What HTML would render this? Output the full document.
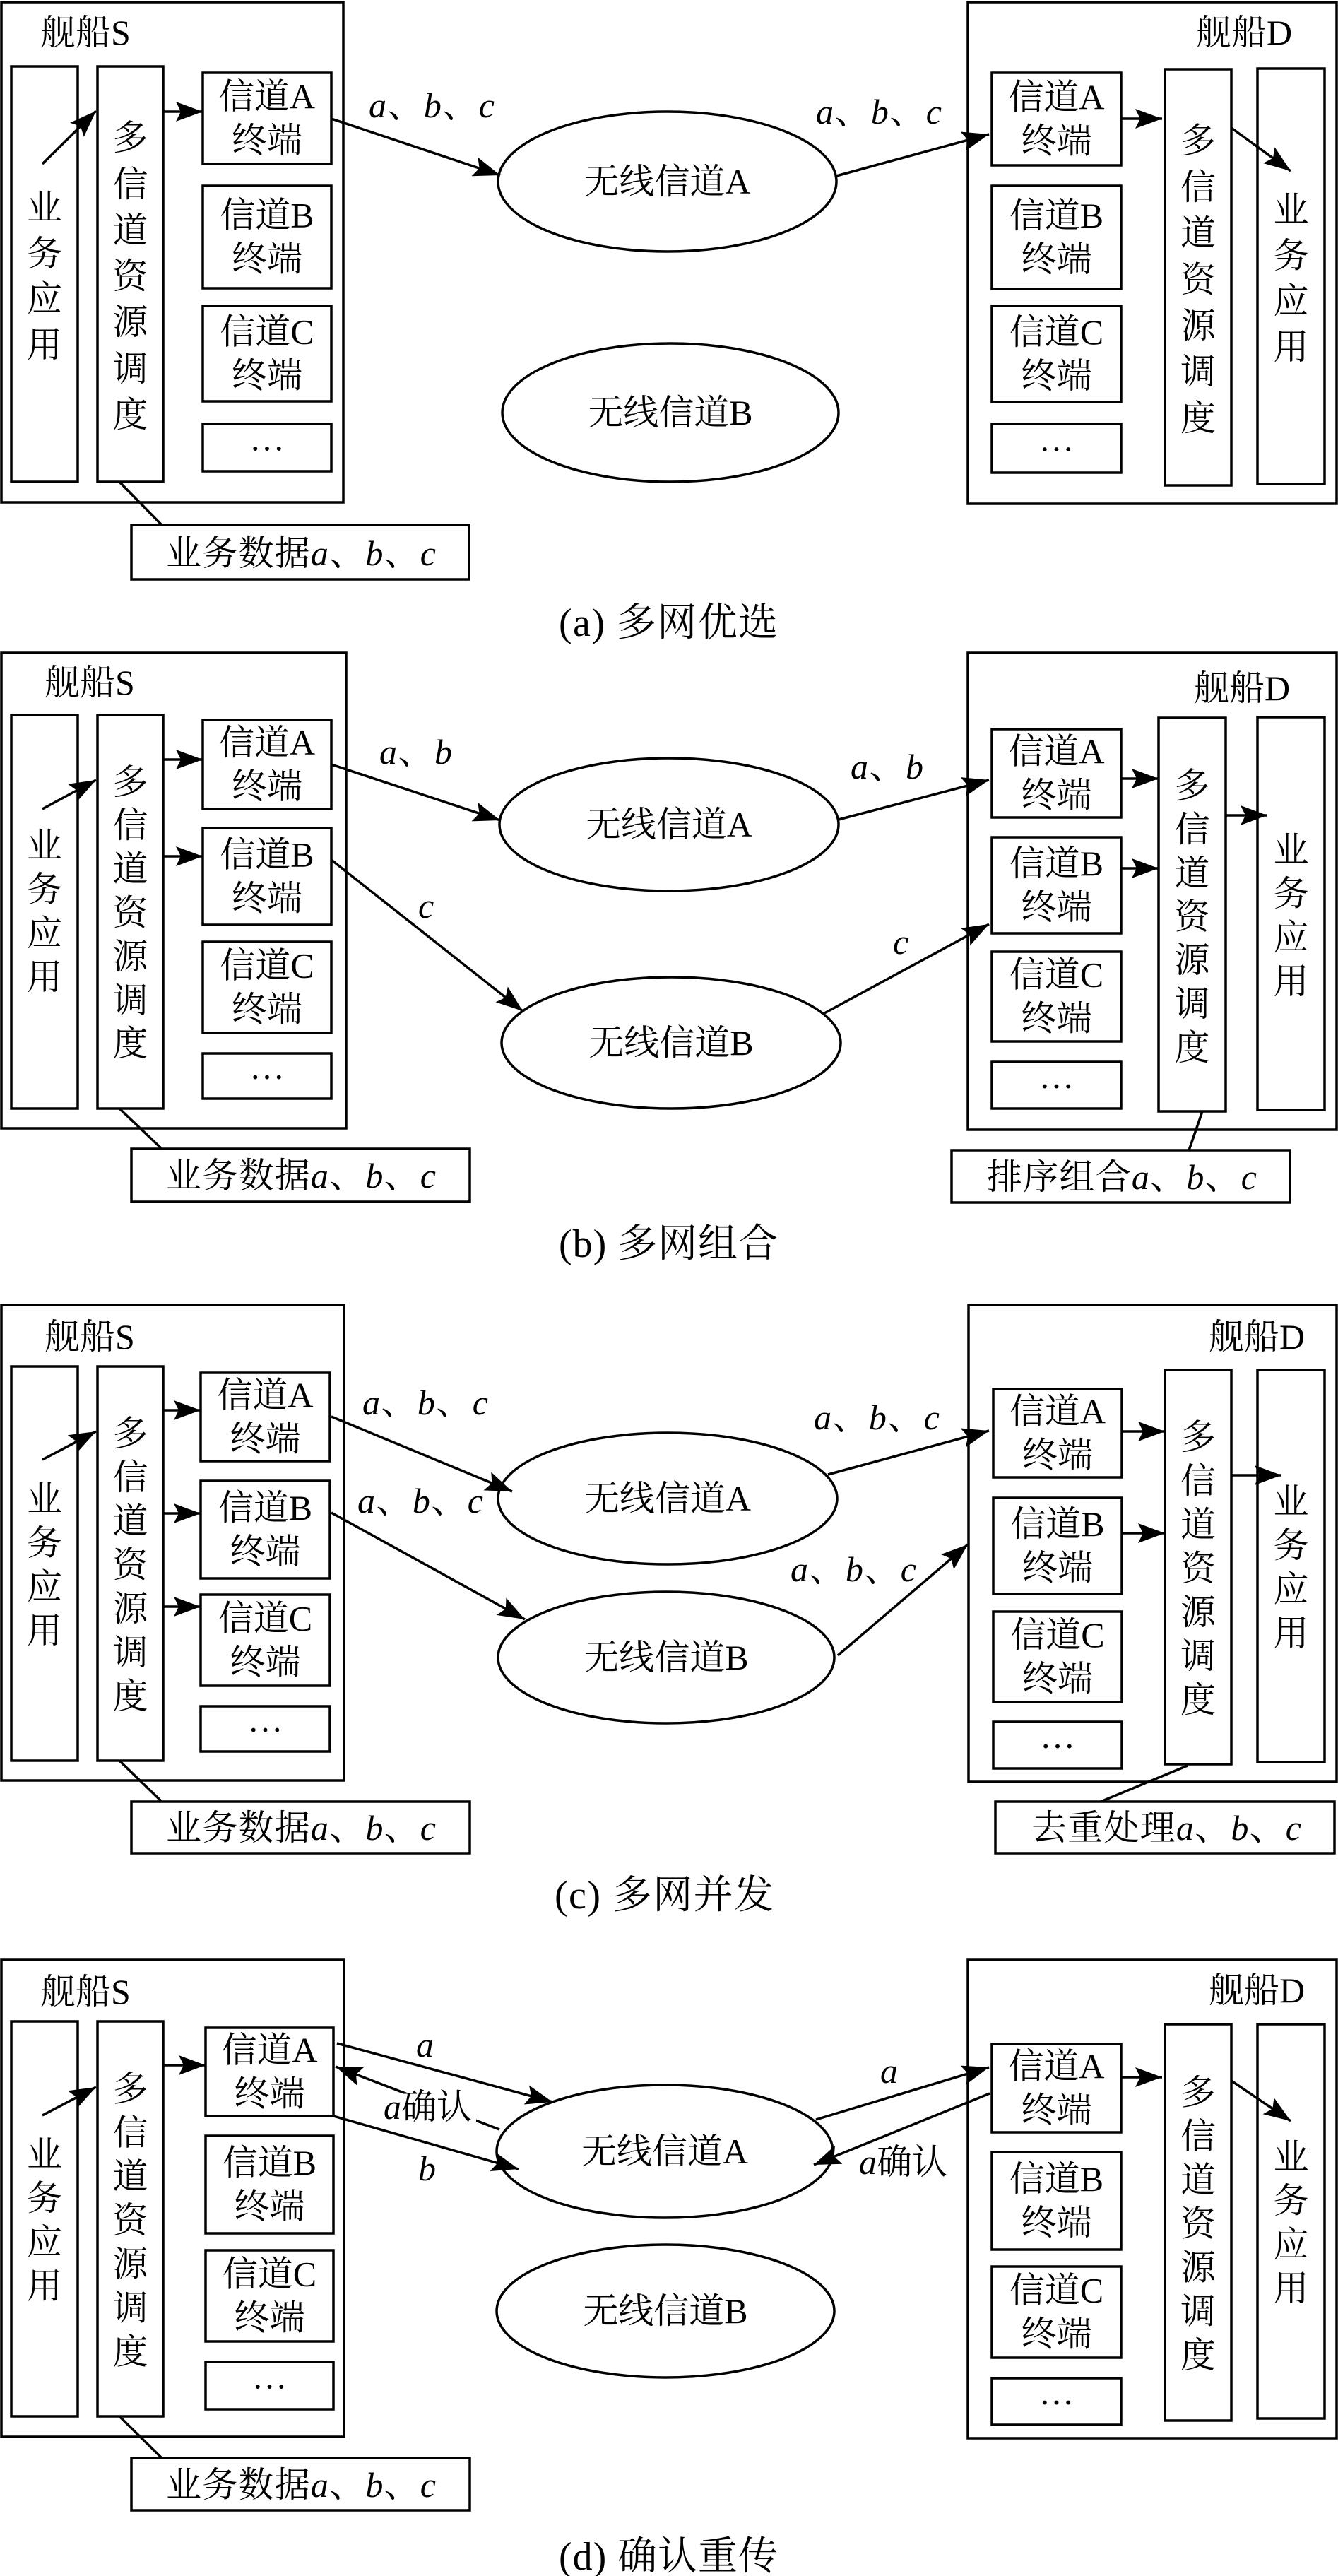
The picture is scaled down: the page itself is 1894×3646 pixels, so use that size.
<!DOCTYPE html>
<html><head><meta charset="utf-8"><style>
html,body{margin:0;padding:0;background:#fff;}
svg{display:block;}
text{font-family:"Liberation Serif","Noto Serif CJK SC",serif;font-size:50px;fill:#000;}
.c{text-anchor:middle;}
.i{font-style:italic;}
.cap{font-size:56px;}
</style></head><body>
<svg width="1894" height="3646" viewBox="0 0 1894 3646" xmlns="http://www.w3.org/2000/svg">
<defs>
<marker id="ar" markerUnits="userSpaceOnUse" markerWidth="40" markerHeight="30" refX="38" refY="14" orient="auto">
<path d="M0,0 L38,14 L0,28 L7,14 z" fill="#000"/>
</marker>
</defs>
<g fill="none" stroke="#000" stroke-width="3.5">
<!-- Panel a -->
<rect x="2" y="3" width="484" height="708"/>
<rect x="16" y="94" width="94" height="588"/>
<rect x="138" y="94" width="93" height="588"/>
<rect x="287" y="103" width="182" height="129"/>
<rect x="287" y="263" width="182" height="145"/>
<rect x="287" y="433" width="182" height="135"/>
<rect x="287" y="600" width="182" height="67"/>
<rect x="1370" y="3" width="522" height="710"/>
<rect x="1404" y="103" width="183" height="131"/>
<rect x="1404" y="263" width="183" height="146"/>
<rect x="1404" y="433" width="183" height="136"/>
<rect x="1404" y="600" width="183" height="69"/>
<rect x="1649" y="98" width="94" height="589"/>
<rect x="1780" y="97" width="95" height="588"/>
<ellipse cx="944.5" cy="257" rx="239.5" ry="99"/>
<ellipse cx="949" cy="584" rx="238" ry="98"/>
<rect x="186" y="743" width="478" height="77"/>
<line x1="169" y1="682" x2="228" y2="742"/>
<g marker-end="url(#ar)">
<line x1="60" y1="232" x2="136" y2="157"/>
<line x1="231" y1="158" x2="287" y2="158"/>
<line x1="469" y1="168" x2="708" y2="248"/>
<line x1="1184" y1="249" x2="1400" y2="190"/>
<line x1="1587" y1="168" x2="1645" y2="168"/>
<line x1="1743" y1="181" x2="1827" y2="242"/>
</g>
<!-- Panel b -->
<rect x="2" y="924" width="488" height="673"/>
<rect x="16" y="1012" width="94" height="557"/>
<rect x="138" y="1012" width="93" height="557"/>
<rect x="287" y="1019" width="182" height="126"/>
<rect x="287" y="1172" width="182" height="137"/>
<rect x="287" y="1333" width="182" height="129"/>
<rect x="287" y="1491" width="182" height="64"/>
<rect x="1370" y="924" width="522" height="675"/>
<rect x="1404" y="1032" width="183" height="125"/>
<rect x="1404" y="1185" width="183" height="136"/>
<rect x="1404" y="1347" width="183" height="127"/>
<rect x="1404" y="1503" width="183" height="66"/>
<rect x="1640" y="1016" width="95" height="557"/>
<rect x="1780" y="1015" width="95" height="556"/>
<ellipse cx="947" cy="1167" rx="240" ry="94"/>
<ellipse cx="950" cy="1476" rx="240" ry="93"/>
<rect x="186" y="1626" width="479" height="75"/>
<line x1="169" y1="1569" x2="228" y2="1625"/>
<rect x="1347" y="1628" width="479" height="74"/>
<line x1="1702" y1="1573" x2="1683" y2="1628"/>
<g marker-end="url(#ar)">
<line x1="60" y1="1145" x2="136" y2="1104"/>
<line x1="231" y1="1075" x2="287" y2="1075"/>
<line x1="231" y1="1212" x2="287" y2="1212"/>
<line x1="469" y1="1082" x2="708" y2="1161"/>
<line x1="469" y1="1217" x2="740" y2="1431"/>
<line x1="1187" y1="1160" x2="1400" y2="1104"/>
<line x1="1167" y1="1434" x2="1400" y2="1308"/>
<line x1="1587" y1="1102" x2="1640" y2="1102"/>
<line x1="1587" y1="1229" x2="1640" y2="1229"/>
<line x1="1735" y1="1154" x2="1794" y2="1154"/>
</g>
<!-- Panel c -->
<rect x="2" y="1847" width="485" height="673"/>
<rect x="16" y="1934" width="94" height="558"/>
<rect x="138" y="1934" width="93" height="558"/>
<rect x="284" y="1943" width="183" height="125"/>
<rect x="284" y="2096" width="183" height="138"/>
<rect x="284" y="2257" width="183" height="129"/>
<rect x="284" y="2415" width="183" height="64"/>
<rect x="1371" y="1847" width="521" height="675"/>
<rect x="1406" y="1966" width="182" height="125"/>
<rect x="1406" y="2120" width="182" height="136"/>
<rect x="1406" y="2281" width="182" height="128"/>
<rect x="1406" y="2437" width="182" height="66"/>
<rect x="1649" y="1939" width="94" height="558"/>
<rect x="1780" y="1939" width="95" height="555"/>
<ellipse cx="945" cy="2121" rx="240" ry="93"/>
<ellipse cx="943" cy="2346" rx="238" ry="93"/>
<rect x="186" y="2550" width="479" height="73"/>
<line x1="169" y1="2492" x2="228" y2="2549"/>
<rect x="1409" y="2550" width="480" height="73"/>
<line x1="1681" y1="2499" x2="1558" y2="2550"/>
<g marker-end="url(#ar)">
<line x1="60" y1="2066" x2="136" y2="2026"/>
<line x1="231" y1="1996" x2="284" y2="1996"/>
<line x1="231" y1="2142" x2="284" y2="2142"/>
<line x1="231" y1="2274" x2="284" y2="2274"/>
<line x1="469" y1="2005" x2="725" y2="2111"/>
<line x1="469" y1="2141" x2="743" y2="2292"/>
<line x1="1172" y1="2087" x2="1400" y2="2025"/>
<line x1="1186" y1="2343" x2="1370" y2="2186"/>
<line x1="1588" y1="2026" x2="1649" y2="2026"/>
<line x1="1588" y1="2170" x2="1649" y2="2170"/>
<line x1="1743" y1="2088" x2="1814" y2="2088"/>
</g>
<!-- Panel d -->
<rect x="2" y="2774" width="485" height="675"/>
<rect x="16" y="2861" width="94" height="559"/>
<rect x="138" y="2861" width="93" height="559"/>
<rect x="291" y="2870" width="181" height="125"/>
<rect x="291" y="3023" width="181" height="138"/>
<rect x="291" y="3185" width="181" height="129"/>
<rect x="291" y="3343" width="181" height="67"/>
<rect x="1370" y="2774" width="522" height="677"/>
<rect x="1404" y="2893" width="183" height="125"/>
<rect x="1404" y="3046" width="183" height="138"/>
<rect x="1404" y="3208" width="183" height="129"/>
<rect x="1404" y="3366" width="183" height="66"/>
<rect x="1649" y="2865" width="94" height="561"/>
<rect x="1780" y="2865" width="95" height="558"/>
<ellipse cx="941" cy="3045" rx="238" ry="94"/>
<ellipse cx="942" cy="3271" rx="239" ry="94"/>
<rect x="186" y="3479" width="479" height="74"/>
<line x1="169" y1="3420" x2="228" y2="3478"/>
<g marker-end="url(#ar)">
<line x1="60" y1="2994" x2="136" y2="2954"/>
<line x1="231" y1="2923" x2="291" y2="2923"/>
<line x1="477" y1="2892" x2="782" y2="2975"/>
<line x1="707" y1="3014" x2="475" y2="2925"/>
<line x1="472" y1="2995" x2="734" y2="3070"/>
<line x1="1155" y1="3000" x2="1400" y2="2926"/>
<line x1="1401" y1="2963" x2="1152" y2="3064"/>
<line x1="1587" y1="2940" x2="1645" y2="2940"/>
<line x1="1743" y1="2945" x2="1827" y2="3002"/>
</g>
</g>
<!-- white backgrounds behind ack labels -->
<rect x="540" y="2962" width="134" height="48" fill="#fff"/>

<!-- ===== TEXT Panel a ===== -->
<text x="57" y="63">舰船S</text>
<text x="1693" y="63">舰船D</text>
<text class="c"><tspan x="63" y="311">业</tspan><tspan x="63" y="376">务</tspan><tspan x="63" y="440">应</tspan><tspan x="63" y="505">用</tspan></text>
<text class="c"><tspan x="184.5" y="212">多</tspan><tspan x="184.5" y="278">信</tspan><tspan x="184.5" y="343">道</tspan><tspan x="184.5" y="408">资</tspan><tspan x="184.5" y="473">源</tspan><tspan x="184.5" y="539">调</tspan><tspan x="184.5" y="604">度</tspan></text>
<text class="c"><tspan x="378" y="153.5">信道A</tspan><tspan x="378" y="215.5">终端</tspan></text>
<text class="c"><tspan x="378" y="321.5">信道B</tspan><tspan x="378" y="383.5">终端</tspan></text>
<text class="c"><tspan x="378" y="486.5">信道C</tspan><tspan x="378" y="548.5">终端</tspan></text>
<text class="c" x="378" y="637.5">…</text>
<text class="c"><tspan x="1495.5" y="154.5">信道A</tspan><tspan x="1495.5" y="216.5">终端</tspan></text>
<text class="c"><tspan x="1495.5" y="322">信道B</tspan><tspan x="1495.5" y="384">终端</tspan></text>
<text class="c"><tspan x="1495.5" y="487">信道C</tspan><tspan x="1495.5" y="549">终端</tspan></text>
<text class="c" x="1495.5" y="638.5">…</text>
<text class="c"><tspan x="1696" y="216">多</tspan><tspan x="1696" y="282">信</tspan><tspan x="1696" y="347">道</tspan><tspan x="1696" y="413">资</tspan><tspan x="1696" y="478">源</tspan><tspan x="1696" y="543">调</tspan><tspan x="1696" y="609">度</tspan></text>
<text class="c"><tspan x="1827.5" y="314">业</tspan><tspan x="1827.5" y="379">务</tspan><tspan x="1827.5" y="443">应</tspan><tspan x="1827.5" y="508">用</tspan></text>
<text class="c" x="944.5" y="274">无线信道A</text>
<text class="c" x="949" y="601">无线信道B</text>
<text x="522" y="166" textLength="178"><tspan class="i">a</tspan>、<tspan class="i">b</tspan>、<tspan class="i">c</tspan></text>
<text x="1155" y="175" textLength="178"><tspan class="i">a</tspan>、<tspan class="i">b</tspan>、<tspan class="i">c</tspan></text>
<text x="235" y="800" textLength="382">业务数据<tspan class="i">a</tspan>、<tspan class="i">b</tspan>、<tspan class="i">c</tspan></text>
<text class="cap" x="791" y="900" textLength="310">(a) 多网优选</text>

<!-- ===== TEXT Panel b ===== -->
<text x="63" y="983">舰船S</text>
<text x="1690" y="991">舰船D</text>
<text class="c"><tspan x="63" y="1214">业</tspan><tspan x="63" y="1276">务</tspan><tspan x="63" y="1338">应</tspan><tspan x="63" y="1400">用</tspan></text>
<text class="c"><tspan x="184.5" y="1124">多</tspan><tspan x="184.5" y="1185">信</tspan><tspan x="184.5" y="1247">道</tspan><tspan x="184.5" y="1309">资</tspan><tspan x="184.5" y="1371">源</tspan><tspan x="184.5" y="1433">调</tspan><tspan x="184.5" y="1494">度</tspan></text>
<text class="c"><tspan x="378" y="1068">信道A</tspan><tspan x="378" y="1130">终端</tspan></text>
<text class="c"><tspan x="378" y="1226.5">信道B</tspan><tspan x="378" y="1288.5">终端</tspan></text>
<text class="c"><tspan x="378" y="1383.5">信道C</tspan><tspan x="378" y="1445.5">终端</tspan></text>
<text class="c" x="378" y="1527">…</text>
<text class="c"><tspan x="1495.5" y="1080.5">信道A</tspan><tspan x="1495.5" y="1142.5">终端</tspan></text>
<text class="c"><tspan x="1495.5" y="1239">信道B</tspan><tspan x="1495.5" y="1301">终端</tspan></text>
<text class="c"><tspan x="1495.5" y="1396.5">信道C</tspan><tspan x="1495.5" y="1458.5">终端</tspan></text>
<text class="c" x="1495.5" y="1540">…</text>
<text class="c"><tspan x="1687.5" y="1129">多</tspan><tspan x="1687.5" y="1191">信</tspan><tspan x="1687.5" y="1253">道</tspan><tspan x="1687.5" y="1314.5">资</tspan><tspan x="1687.5" y="1376">源</tspan><tspan x="1687.5" y="1438">调</tspan><tspan x="1687.5" y="1500">度</tspan></text>
<text class="c"><tspan x="1827.5" y="1220">业</tspan><tspan x="1827.5" y="1282">务</tspan><tspan x="1827.5" y="1344">应</tspan><tspan x="1827.5" y="1406">用</tspan></text>
<text class="c" x="947" y="1184">无线信道A</text>
<text class="c" x="950" y="1493">无线信道B</text>
<text x="537" y="1081" textLength="103"><tspan class="i">a</tspan>、<tspan class="i">b</tspan></text>
<text x="592" y="1299" class="i">c</text>
<text x="1204" y="1102" textLength="103"><tspan class="i">a</tspan>、<tspan class="i">b</tspan></text>
<text x="1264" y="1350" class="i">c</text>
<text x="235" y="1681" textLength="382">业务数据<tspan class="i">a</tspan>、<tspan class="i">b</tspan>、<tspan class="i">c</tspan></text>
<text x="1397" y="1683" textLength="382">排序组合<tspan class="i">a</tspan>、<tspan class="i">b</tspan>、<tspan class="i">c</tspan></text>
<text class="cap" x="791" y="1779" textLength="310">(b) 多网组合</text>

<!-- ===== TEXT Panel c ===== -->
<text x="63" y="1909">舰船S</text>
<text x="1711" y="1909">舰船D</text>
<text class="c"><tspan x="63" y="2139">业</tspan><tspan x="63" y="2201">务</tspan><tspan x="63" y="2263">应</tspan><tspan x="63" y="2325">用</tspan></text>
<text class="c"><tspan x="184.5" y="2046">多</tspan><tspan x="184.5" y="2108">信</tspan><tspan x="184.5" y="2170">道</tspan><tspan x="184.5" y="2232">资</tspan><tspan x="184.5" y="2294">源</tspan><tspan x="184.5" y="2356">调</tspan><tspan x="184.5" y="2418">度</tspan></text>
<text class="c"><tspan x="375.5" y="1991.5">信道A</tspan><tspan x="375.5" y="2053.5">终端</tspan></text>
<text class="c"><tspan x="375.5" y="2151">信道B</tspan><tspan x="375.5" y="2213">终端</tspan></text>
<text class="c"><tspan x="375.5" y="2307.5">信道C</tspan><tspan x="375.5" y="2369.5">终端</tspan></text>
<text class="c" x="375.5" y="2451">…</text>
<text class="c"><tspan x="1497" y="2014.5">信道A</tspan><tspan x="1497" y="2076.5">终端</tspan></text>
<text class="c"><tspan x="1497" y="2174">信道B</tspan><tspan x="1497" y="2236">终端</tspan></text>
<text class="c"><tspan x="1497" y="2331">信道C</tspan><tspan x="1497" y="2393">终端</tspan></text>
<text class="c" x="1497" y="2474">…</text>
<text class="c"><tspan x="1696" y="2051">多</tspan><tspan x="1696" y="2113">信</tspan><tspan x="1696" y="2175">道</tspan><tspan x="1696" y="2237">资</tspan><tspan x="1696" y="2299">源</tspan><tspan x="1696" y="2361">调</tspan><tspan x="1696" y="2423">度</tspan></text>
<text class="c"><tspan x="1827.5" y="2142.5">业</tspan><tspan x="1827.5" y="2204.5">务</tspan><tspan x="1827.5" y="2266.5">应</tspan><tspan x="1827.5" y="2328.5">用</tspan></text>
<text class="c" x="945" y="2138">无线信道A</text>
<text class="c" x="943" y="2363">无线信道B</text>
<text x="513" y="2002" textLength="178"><tspan class="i">a</tspan>、<tspan class="i">b</tspan>、<tspan class="i">c</tspan></text>
<text x="506" y="2141" textLength="178"><tspan class="i">a</tspan>、<tspan class="i">b</tspan>、<tspan class="i">c</tspan></text>
<text x="1152" y="2023" textLength="178"><tspan class="i">a</tspan>、<tspan class="i">b</tspan>、<tspan class="i">c</tspan></text>
<text x="1119" y="2238" textLength="178"><tspan class="i">a</tspan>、<tspan class="i">b</tspan>、<tspan class="i">c</tspan></text>
<text x="235" y="2604" textLength="382">业务数据<tspan class="i">a</tspan>、<tspan class="i">b</tspan>、<tspan class="i">c</tspan></text>
<text x="1460" y="2604" textLength="382">去重处理<tspan class="i">a</tspan>、<tspan class="i">b</tspan>、<tspan class="i">c</tspan></text>
<text class="cap" x="785" y="2701" textLength="310">(c) 多网并发</text>

<!-- ===== TEXT Panel d ===== -->
<text x="57" y="2836">舰船S</text>
<text x="1711" y="2834">舰船D</text>
<text class="c"><tspan x="63" y="3066.5">业</tspan><tspan x="63" y="3128.5">务</tspan><tspan x="63" y="3190.5">应</tspan><tspan x="63" y="3252.5">用</tspan></text>
<text class="c"><tspan x="184.5" y="2973.5">多</tspan><tspan x="184.5" y="3035.5">信</tspan><tspan x="184.5" y="3097.5">道</tspan><tspan x="184.5" y="3159.5">资</tspan><tspan x="184.5" y="3221.5">源</tspan><tspan x="184.5" y="3283.5">调</tspan><tspan x="184.5" y="3345.5">度</tspan></text>
<text class="c"><tspan x="381.5" y="2918.5">信道A</tspan><tspan x="381.5" y="2980.5">终端</tspan></text>
<text class="c"><tspan x="381.5" y="3078">信道B</tspan><tspan x="381.5" y="3140">终端</tspan></text>
<text class="c"><tspan x="381.5" y="3235.5">信道C</tspan><tspan x="381.5" y="3297.5">终端</tspan></text>
<text class="c" x="381.5" y="3380.5">…</text>
<text class="c"><tspan x="1495.5" y="2941.5">信道A</tspan><tspan x="1495.5" y="3003.5">终端</tspan></text>
<text class="c"><tspan x="1495.5" y="3101">信道B</tspan><tspan x="1495.5" y="3163">终端</tspan></text>
<text class="c"><tspan x="1495.5" y="3258.5">信道C</tspan><tspan x="1495.5" y="3320.5">终端</tspan></text>
<text class="c" x="1495.5" y="3403">…</text>
<text class="c"><tspan x="1696" y="2978.5">多</tspan><tspan x="1696" y="3040.5">信</tspan><tspan x="1696" y="3102.5">道</tspan><tspan x="1696" y="3164.5">资</tspan><tspan x="1696" y="3226.5">源</tspan><tspan x="1696" y="3288.5">调</tspan><tspan x="1696" y="3350.5">度</tspan></text>
<text class="c"><tspan x="1827.5" y="3070">业</tspan><tspan x="1827.5" y="3132">务</tspan><tspan x="1827.5" y="3194">应</tspan><tspan x="1827.5" y="3256">用</tspan></text>
<text class="c" x="941" y="3062">无线信道A</text>
<text class="c" x="942" y="3288">无线信道B</text>
<text x="589" y="2911" class="i">a</text>
<text x="543" y="2999"><tspan class="i">a</tspan>确认</text>
<text x="592" y="3086" class="i">b</text>
<text x="1246" y="2948" class="i">a</text>
<text x="1216" y="3077"><tspan class="i">a</tspan>确认</text>
<text x="235" y="3534" textLength="382">业务数据<tspan class="i">a</tspan>、<tspan class="i">b</tspan>、<tspan class="i">c</tspan></text>
<text class="cap" x="791" y="3637" textLength="310">(d) 确认重传</text>
</svg>
</body></html>
